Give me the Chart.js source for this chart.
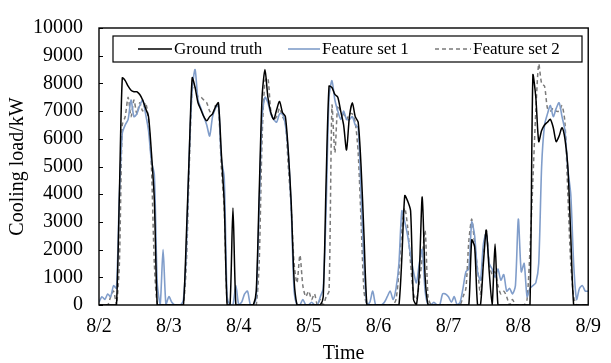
<!DOCTYPE html>
<html>
<head>
<meta charset="utf-8">
<script src="https://cdn.jsdelivr.net/npm/chart.js@4.4.0/dist/chart.umd.min.js"></script>
<style>
  html, body { margin: 0; padding: 0; background: #fff; }
  #wrap { width: 611px; height: 363px; }
</style>
</head>
<body>
<div id="wrap"><canvas id="myChart" width="611" height="363"></canvas></div>
<script>
// hourly values, 8/2 00:00 .. 8/9 00:00 (169 points)
const dayLabels = ['8/2', '8/3', '8/4', '8/5', '8/6', '8/7', '8/8', '8/9'];
const seriesNames = ['Ground truth', 'Feature set 1', 'Feature set 2'];

const groundTruth = [
  0,0,0,0,0,0,0,4000,8200,8100,7900,7750,7700,7700,7600,7400,7100,6800,5500,3800,0,0,0,0,
  0,0,0,0,0,0,2500,5500,8200,7850,7300,7050,6800,6650,6800,6900,7150,7300,5500,3700,0,0,3500,0,
  0,0,0,0,0,0,500,4000,7500,8500,7500,6950,6700,7050,7350,6950,6800,5550,3700,900,0,0,0,0,
  0,0,0,0,0,300,4500,7900,7850,7600,7500,7000,6500,5600,6800,7300,6800,6600,5000,2500,0,0,0,0,
  0,0,0,0,0,0,0,0,1700,3950,3750,3400,200,0,1200,3900,1000,0,0,0,0,0,0,0,
  0,0,0,0,0,0,0,0,2350,2100,0,0,1500,2700,1200,0,2200,0,0,0,0,0,0,0,
  0,0,0,0,0,8300,7500,5900,6300,6500,6600,6700,6400,5900,6100,6400,6000,5000,2500,0,0,0,0,0,0
];

const featureSet1 = [
  100,300,200,400,300,700,600,4000,6200,6500,6700,7400,6800,6900,7200,7400,6900,6300,5200,4700,800,0,2000,0,
  300,100,0,0,0,200,2000,5500,7800,8500,7400,7100,6800,6500,6100,6800,7100,7250,5300,4600,300,0,0,700,
  0,100,400,500,0,0,300,3500,6800,7500,7300,6900,6700,6600,6900,6900,6500,5500,3500,500,0,0,200,0,
  0,100,0,0,300,600,3500,7500,8100,7400,7000,6700,7000,6700,6700,6800,6500,6400,4000,1500,0,100,500,0,
  0,0,100,300,500,200,600,1500,3400,3000,2500,1800,1200,800,1500,2000,500,0,0,100,0,0,400,400,
  300,100,300,0,100,600,1200,1300,3000,2500,1200,900,2200,2600,1500,1300,1000,1300,900,1100,500,600,400,700,
  3100,1200,1500,300,600,700,800,1500,5000,6500,6900,7200,6800,7100,7300,6800,6300,4900,4000,1500,200,600,700,500,500
];

const featureSet2 = [
  0,0,0,0,300,500,0,1500,6500,6800,7500,6800,7400,6900,7300,7000,7300,6700,5000,1500,0,0,0,0,
  0,0,0,0,0,0,1500,5000,7800,7900,7500,7500,7400,7300,7000,6900,7200,7100,5000,3500,0,0,0,0,
  0,0,0,0,0,0,0,1500,6000,8100,8200,7000,6700,6800,7100,6800,6600,5000,3500,1500,800,1800,700,300,
  500,200,400,0,200,0,300,500,7200,5500,7200,7000,6900,6700,6900,6900,6600,5500,3000,500,0,0,0,0,
  0,0,0,0,0,0,200,1200,2800,3500,2800,1500,400,200,800,1700,2700,300,0,0,0,0,0,0,
  0,0,0,0,0,300,600,2300,3100,2200,1300,400,2000,2700,1500,1100,1200,700,400,500,300,0,200,0,
  0,0,0,200,2000,4500,7000,8700,8000,7900,7100,7000,7100,7000,7000,7200,6600,4000,1500,300,0,0,0,0,0
];

const yTicks = [0, 1000, 2000, 3000, 4000, 5000, 6000, 7000, 8000, 9000, 10000];

const serif = '"Liberation Serif", "Times New Roman", serif';
const toPoints = arr => arr.map((v, i) => ({ x: i, y: v }));

// frame, inward y ticks and the boxed legend inside the plot
const framePlugin = {
  id: 'frame',
  afterDraw(chart) {
    const { ctx, chartArea: a, scales } = chart;
    ctx.save();
    ctx.strokeStyle = '#000';
    ctx.lineWidth = 1.4;
    ctx.strokeRect(a.left, a.top, a.right - a.left, a.bottom - a.top);
    ctx.lineWidth = 1;
    scales.y.ticks.forEach(t => {
      const py = Math.round(scales.y.getPixelForValue(t.value)) + 0.5;
      ctx.beginPath();
      ctx.moveTo(a.left, py);
      ctx.lineTo(a.left + 4, py);
      ctx.stroke();
    });

    // legend
    const bx = a.left + 14, by = a.top + 8, bw = 469, bh = 26;
    ctx.fillStyle = '#fff';
    ctx.fillRect(bx, by, bw, bh);
    ctx.lineWidth = 1.2;
    ctx.strokeStyle = '#000';
    ctx.strokeRect(bx, by, bw, bh);
    const cy = by + bh / 2;
    const items = [[bx + 25, 34], [bx + 175, 32], [bx + 322, 36]];
    ctx.font = '17px ' + serif;
    ctx.textBaseline = 'middle';
    chart.data.datasets.forEach((ds, i) => {
      const [lx, lw] = items[i];
      ctx.strokeStyle = ds.borderColor;
      ctx.lineWidth = ds.borderWidth;
      ctx.setLineDash(ds.borderDash || []);
      ctx.beginPath();
      ctx.moveTo(lx, cy);
      ctx.lineTo(lx + lw, cy);
      ctx.stroke();
      ctx.setLineDash([]);
      ctx.fillStyle = '#000';
      ctx.fillText(ds.label, lx + lw + 2, cy + 1);
    });
    ctx.restore();
  }
};

new Chart(document.getElementById('myChart').getContext('2d'), {
  type: 'line',
  data: {
    datasets: [
      {
        label: seriesNames[0],
        data: toPoints(groundTruth),
        borderColor: '#000000',
        borderWidth: 1.5,
        pointRadius: 0,
        tension: 0.25
      },
      {
        label: seriesNames[1],
        data: toPoints(featureSet1),
        borderColor: '#809dca',
        borderWidth: 1.6,
        pointRadius: 0,
        tension: 0.25
      },
      {
        label: seriesNames[2],
        data: toPoints(featureSet2),
        borderColor: '#7a7a7a',
        borderWidth: 1.5,
        borderDash: [4, 3],
        pointRadius: 0,
        tension: 0.25
      }
    ]
  },
  options: {
    responsive: false,
    animation: false,
    layout: { padding: { left: 0, right: 13, top: 14, bottom: 0 } },
    plugins: {
      legend: { display: false },
      tooltip: { enabled: false }
    },
    scales: {
      x: {
        type: 'linear',
        min: 0,
        max: 168,
        afterFit: s => { s.height = 58; },
        afterBuildTicks: s => { s.ticks = dayLabels.map((_, i) => ({ value: i * 24 })); },
        grid: { display: false, drawTicks: false },
        border: { display: false },
        ticks: {
          padding: 10,
          color: '#000',
          font: { family: serif, size: 20 },
          callback: v => dayLabels[v / 24]
        },
        title: {
          display: true,
          text: 'Time',
          color: '#000',
          font: { family: serif, size: 20 },
          padding: { top: 0, bottom: -3 }
        }
      },
      y: {
        min: 0,
        max: 10000,
        afterFit: s => { s.width = 99; },
        afterBuildTicks: s => { s.ticks = yTicks.map(v => ({ value: v })); },
        grid: { display: false, drawTicks: false },
        border: { display: false },
        ticks: {
          padding: 16,
          color: '#000',
          font: { family: serif, size: 20 },
          callback: v => String(v)
        },
        title: {
          display: true,
          text: 'Cooling load/kW',
          color: '#000',
          font: { family: serif, size: 20 },
          padding: { top: 6, bottom: 0 }
        }
      }
    }
  },
  plugins: [framePlugin]
});
</script>
</body>
</html>
